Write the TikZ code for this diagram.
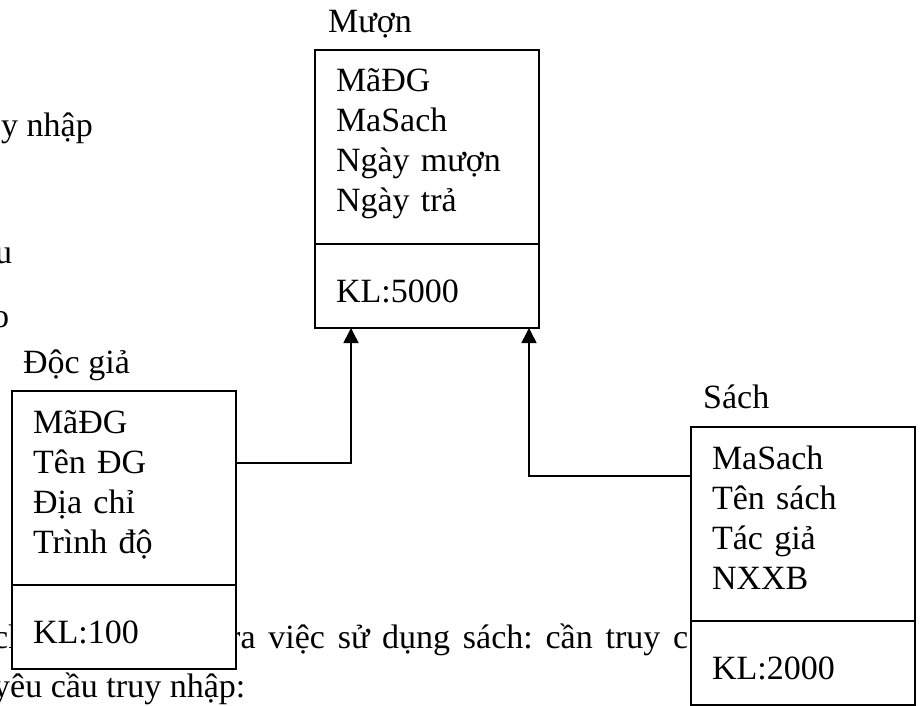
\documentclass[tikz,border=0pt]{standalone}
\usepackage{fontspec}
\setmainfont{Liberation Serif}
\usetikzlibrary{positioning,arrows.meta}
\frenchspacing

\begin{document}
\begin{tikzpicture}[
        x=1pt, y=-1pt,
        >={Triangle[width=15pt,length=15pt]},
        every node/.style={font=\fontsize{34pt}{40pt}\selectfont},
        attrbox/.style={draw, line width=1.6pt, fill=white, outer sep=0pt, anchor=north west, inner xsep=21pt, inner ysep=0pt, text width=182pt, align=left, text height=42pt, text depth=152pt},
        klbox/.style={draw, line width=1.6pt, fill=white, outer sep=0pt, inner xsep=21pt, inner ysep=0pt, text width=182pt, align=left, text height=58pt, text depth=26pt},
        entname/.style={anchor=base west, inner sep=0pt},
        bgtext/.style={anchor=base west, inner sep=0pt},
        link/.style={->, line width=1.6pt}
    ]
        \useasboundingbox (0,0) rectangle (921,706);
        \clip (0,0) rectangle (921,706);

        % page text behind the diagram
        \node[bgtext] (bg1) at (1,137) {y nhập};
        \node[bgtext] (bg2) at (-5,263) {u};
        \node[bgtext] (bg3) at (-8,327) {o};
        \node[bgtext] (bg4) at (-7,648) {ch};
        \node[bgtext] (bg5) at (229,648) {\makebox[459pt][s]{ra việc sử dụng sách: cần truy c}};
        \node[bgtext] (bg6) at (-7,697) {yêu cầu truy nhập:};

        % entities
        \node[attrbox] (muon) at (315,50) {MãĐG\\MaSach\\Ngày mượn\\Ngày trả};
        \node[klbox, below=0pt of muon] (muon-kl) {KL:5000};
        \node[entname] (muon-name) at ([shift={(13pt,17pt)}]muon.north west) {Mượn};

        \node[attrbox] (docgia) at (12,391) {MãĐG\\Tên ĐG\\Địa chỉ\\Trình độ};
        \node[klbox, below=0pt of docgia] (docgia-kl) {KL:100};
        \node[entname] (docgia-name) at ([shift={(11pt,18pt)}]docgia.north west) {Độc giả};

        \node[attrbox] (sach) at (691,427) {MaSach\\Tên sách\\Tác giả\\NXXB};
        \node[klbox, below=0pt of sach] (sach-kl) {KL:2000};
        \node[entname] (sach-name) at ([shift={(12pt,19pt)}]sach.north west) {Sách};

        \draw[link] ([yshift=-72pt]docgia.north east) -| ([xshift=36pt]muon-kl.south west);
        \draw[link] ([yshift=-49pt]sach.north west) -| ([xshift=-10pt]muon-kl.south east);
    \end{tikzpicture}
\end{document}
